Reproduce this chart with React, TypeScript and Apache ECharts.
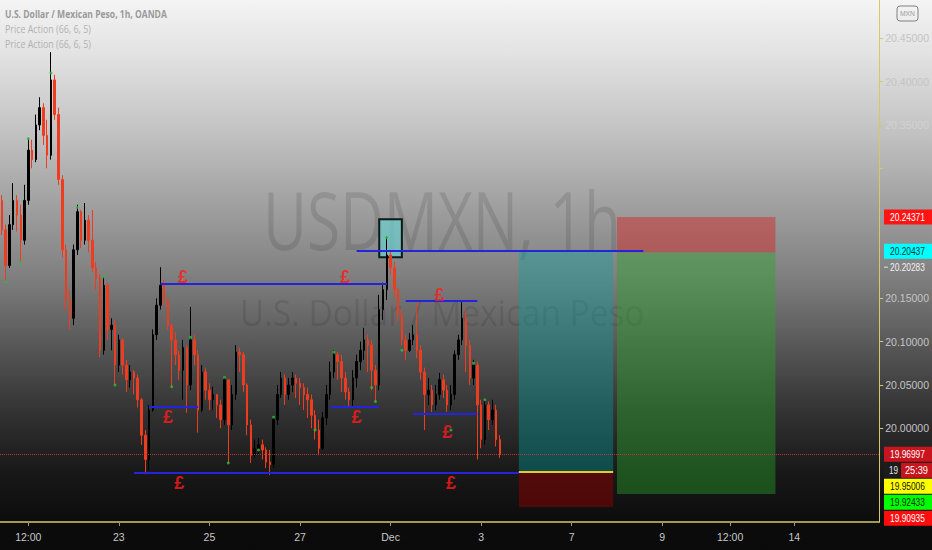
import React, { useEffect, useRef } from 'react';
import * as echarts from 'echarts';

// ---------- data ----------
const firstOpen = 20.263;
const closes = [
  20.229, 20.188, 20.235, 20.263, 20.246, 20.217, 20.263, 20.321, 20.310, 20.350,
  20.370, 20.338, 20.315, 20.402, 20.362, 20.287, 20.206, 20.148, 20.127, 20.206,
  20.250, 20.217, 20.240, 20.217, 20.185, 20.173, 20.090, 20.165, 20.114, 20.119,
  20.073, 20.102, 20.073, 20.056, 20.065, 20.058, 20.033, 19.992, 19.964, 20.021,
  20.108, 20.142, 20.165, 20.148, 20.119, 20.102, 20.085, 20.067, 20.093, 20.050,
  20.102, 20.085, 20.021, 20.065, 20.044, 20.033, 20.039, 20.027, 20.010, 20.056,
  20.004, 20.039, 20.088, 20.085, 20.050, 20.004, 19.969, 19.977, 19.981, 19.975,
  19.961, 19.958, 20.010, 20.039, 20.058, 20.039, 20.050, 20.058, 20.052, 20.047,
  20.039, 20.033, 20.015, 19.998, 19.977, 20.012, 20.039, 20.065, 20.085, 20.077,
  20.058, 20.042, 20.033, 20.058, 20.077, 20.090, 20.102, 20.096, 20.067, 20.050,
  20.137, 20.160, 20.200, 20.185, 20.160, 20.131, 20.102, 20.090, 20.102, 20.108,
  20.090, 20.065, 20.039, 20.044, 20.027, 20.039, 20.056, 20.044, 20.027, 20.039,
  20.085, 20.102, 20.127, 20.096, 20.058, 20.073, 20.027, 19.987, 20.027, 20.010,
  20.021, 19.987, 19.970,
];
const highs = [
  20.269, 20.235, 20.246, 20.283, 20.269, 20.258, 20.281, 20.335, 20.333, 20.362,
  20.382, 20.375, 20.356, 20.434, 20.408, 20.370, 20.292, 20.212, 20.160, 20.212,
  20.258, 20.252, 20.260, 20.246, 20.252, 20.192, 20.178, 20.175, 20.168, 20.127,
  20.125, 20.108, 20.104, 20.079, 20.073, 20.067, 20.062, 20.035, 19.998, 20.027,
  20.114, 20.150, 20.186, 20.171, 20.150, 20.121, 20.111, 20.090, 20.102, 20.096,
  20.140, 20.108, 20.090, 20.073, 20.070, 20.052, 20.048, 20.039, 20.033, 20.060,
  20.056, 20.050, 20.096, 20.093, 20.088, 20.052, 20.010, 19.987, 19.989, 19.987,
  19.978, 19.975, 20.015, 20.050, 20.065, 20.062, 20.058, 20.065, 20.062, 20.058,
  20.052, 20.047, 20.039, 20.021, 20.010, 20.019, 20.050, 20.077, 20.090, 20.088,
  20.085, 20.065, 20.047, 20.067, 20.085, 20.100, 20.116, 20.108, 20.102, 20.073,
  20.154, 20.168, 20.221, 20.204, 20.192, 20.162, 20.137, 20.108, 20.110, 20.119,
  20.148, 20.096, 20.070, 20.058, 20.050, 20.050, 20.064, 20.062, 20.050, 20.050,
  20.090, 20.108, 20.148, 20.137, 20.102, 20.079, 20.077, 20.033, 20.033, 20.031,
  20.033, 20.027, 19.992,
];
const lows = [
  20.223, 20.169, 20.185, 20.229, 20.227, 20.192, 20.212, 20.258, 20.300, 20.307,
  20.344, 20.327, 20.300, 20.310, 20.356, 20.281, 20.197, 20.137, 20.114, 20.119,
  20.200, 20.208, 20.212, 20.203, 20.180, 20.160, 20.082, 20.085, 20.102, 20.090,
  20.050, 20.065, 20.062, 20.042, 20.047, 20.039, 20.024, 19.981, 19.947, 19.952,
  20.019, 20.102, 20.137, 20.142, 20.114, 20.048, 20.073, 20.056, 20.033, 20.018,
  20.044, 20.073, 19.995, 20.019, 20.033, 20.021, 20.021, 20.012, 20.000, 20.004,
  19.960, 19.998, 20.033, 20.065, 20.042, 19.992, 19.960, 19.966, 19.969, 19.964,
  19.954, 19.946, 19.954, 20.004, 20.035, 20.027, 20.033, 20.042, 20.035, 20.027,
  20.021, 20.012, 20.000, 19.987, 19.969, 19.975, 20.004, 20.033, 20.058, 20.056,
  20.042, 20.033, 20.025, 20.026, 20.047, 20.067, 20.079, 20.065, 20.044, 20.031,
  20.044, 20.125, 20.148, 20.177, 20.150, 20.123, 20.096, 20.079, 20.088, 20.096,
  20.081, 20.056, 19.998, 20.027, 20.019, 20.021, 20.033, 20.035, 20.019, 20.021,
  20.033, 20.079, 20.096, 20.065, 20.050, 20.050, 19.964, 19.977, 19.981, 19.998,
  20.004, 19.979, 19.966,
];

const slotCount = 233;
const tickSlots = [7, 31, 55, 79, 103, 127, 151, 175, 193, 210];
const tickLabels = ['12:00', '23', '25', '27', 'Dec', '3', '7', '9', '12:00', '14'];
const priceTicks = [20.0, 20.05, 20.1, 20.15, 20.3, 20.35, 20.4, 20.45];
const priceLabels = [20.0, 20.05, 20.1, 20.15, 20.35, 20.4, 20.45];

const levelPrices = [20.1673, 20.2044, 20.1477, 20.0254, 20.0245, 20.0169, 19.9485];
const levelFrom = [42, 94, 107, 39, 87, 109, 35];
const levelTo = [102, 170, 126, 52, 100, 126, 137];

const poundSlots = [48, 91, 116, 44, 94, 118, 47, 119];
const poundPrices = [20.1745, 20.1745, 20.1537, 20.0130, 20.0130, 19.9957, 19.9368, 19.9368];

const pivotSlots = [1, 5, 7, 13, 20, 27, 30, 45, 50, 59, 60, 68, 72, 83, 88, 98, 99, 102, 106, 119, 125, 128];
const pivotPrices = [20.169, 20.191, 20.334, 20.410, 20.255, 20.175, 20.050, 20.048, 20.105, 20.059, 19.960,
  19.975, 20.013, 19.998, 20.088, 20.047, 20.031, 20.220, 20.090, 19.998, 20.075, 20.033];

const focusSlots = [100, 106];
const focusPrices = [20.2411, 20.1973];
const longSlots = [137, 162];
const longPrices = [20.20437, 19.95006, 19.90935]; // target, entry, stop
const shortSlots = [163, 205];
const shortPrices = [20.24371, 20.20283, 19.92433]; // stop, entry, target
const lastPrice = 19.96997;

const tagValues = [20.24371, 20.20437, 20.20283, 19.96997, 19.95006, 19.92433, 19.90935];
const countdownTexts = ['19', '25:39'];

// ---------- styles ----------
const tagBg = ['#ff1414', '#00ffff', 'none', '#c8141c', '#ffff00', '#00ff00', '#ff0d0d'];
const tagFg = ['#ffffff', '#003838', '#f0f0f0', '#ffffff', '#111111', '#0b2a0b', '#ffffff'];
const UP = '#000000';
const DOWN = '#f03c1e';
const AXIS = '#d4c86a';
const NARROW = "'Liberation Sans Narrow', 'Liberation Sans', sans-serif";

export default function App() {
  const ref = useRef<HTMLDivElement>(null);

  useEffect(() => {
    if (!ref.current) return;
    const chart = echarts.init(ref.current, null, { renderer: 'svg' });

    const categories = Array.from({ length: slotCount }, (_, i) => String(i));
    const ohlc = closes.map((c, i) => [i === 0 ? firstOpen : closes[i - 1], c, lows[i], highs[i]]);
    const labelAt = new Map<number, string>(tickSlots.map((s, i) => [s, tickLabels[i]] as [number, string]));

    const option: any = {
      animation: false,
      backgroundColor: 'transparent',
      grid: { left: 0, right: 48, top: 0, bottom: 28, containLabel: false },
      xAxis: {
        type: 'category',
        data: categories,
        boundaryGap: true,
        axisLine: { show: true, lineStyle: { color: AXIS, width: 1.5 } },
        axisTick: {
          show: true, alignWithLabel: true, length: 4,
          interval: (i: number) => labelAt.has(i),
          lineStyle: { color: '#9a9a80' },
        },
        axisLabel: {
          interval: (i: number) => labelAt.has(i),
          formatter: (v: string) => labelAt.get(Number(v)) ?? '',
          color: '#c8c8c8', fontSize: 10.5, margin: 9, fontFamily: NARROW,
          hideOverlap: false,
        },
        splitLine: { show: false },
      },
      yAxis: {
        type: 'value',
        position: 'right',
        min: 19.8919,
        max: 20.4942,
        splitLine: { show: false },
        axisLine: { show: true, lineStyle: { color: AXIS, width: 1 } },
        axisTick: { show: true, length: 4, customValues: priceTicks, lineStyle: { color: AXIS } },
        axisLabel: {
          customValues: priceLabels,
          formatter: (v: number) => v.toFixed(5),
          color: (v: any) => (Number(v) > 20.32 && Number(v) < 20.37 ? '#d2d2d2' : '#c4c4c4'),
          fontSize: 10.5, margin: 6, fontFamily: NARROW,
        },
      },
      series: [
        {
          type: 'line',
          name: 'zones',
          data: [],
          z: 1,
          silent: true,
          markArea: {
            silent: true,
            data: [
              [{ coord: [longSlots[0], longPrices[0]], itemStyle: { color: 'rgba(0,165,165,0.36)' } }, { coord: [longSlots[1], longPrices[1]] }],
              [{ coord: [longSlots[0], longPrices[1]], itemStyle: { color: 'rgba(140,0,0,0.5)' } }, { coord: [longSlots[1], longPrices[2]] }],
              [{ coord: [shortSlots[0], shortPrices[0]], itemStyle: { color: 'rgba(215,30,30,0.45)' } }, { coord: [shortSlots[1], shortPrices[1]] }],
              [{ coord: [shortSlots[0], shortPrices[1]], itemStyle: { color: 'rgba(40,165,40,0.42)' } }, { coord: [shortSlots[1], shortPrices[2]] }],
              [{ coord: [focusSlots[0], focusPrices[0]], itemStyle: { color: 'rgba(110,205,205,0.72)', borderColor: '#0b1a1a', borderWidth: 2 } }, { coord: [focusSlots[1], focusPrices[1]] }],
            ],
          },
        },
        {
          type: 'candlestick',
          data: ohlc,
          barWidth: 2,
          z: 3,
          itemStyle: { color: UP, color0: DOWN, borderColor: UP, borderColor0: DOWN, borderWidth: 1 },
        },
        {
          type: 'scatter',
          name: 'pivots',
          data: pivotSlots.map((s, i) => [s, pivotPrices[i]]),
          symbolSize: 3,
          z: 4,
          itemStyle: { color: '#27c23a' },
        },
        {
          type: 'line',
          name: 'levels',
          data: [],
          z: 5,
          silent: true,
          markLine: {
            silent: true,
            symbol: ['none', 'none'],
            label: { show: false },
            data: [
              ...levelPrices.map((p, i) => [
                { coord: [levelFrom[i], p], lineStyle: { color: '#2424dc', width: 2, type: 'solid' } },
                { coord: [levelTo[i], p] },
              ]),
              [
                { coord: [longSlots[0], longPrices[1]], lineStyle: { color: '#e0cc2a', width: 2, type: 'solid' } },
                { coord: [longSlots[1], longPrices[1]] },
              ],
              { yAxis: lastPrice, lineStyle: { color: 'rgba(200,60,60,0.85)', width: 1, type: 'dotted' } },
            ],
          },
        },
        {
          type: 'scatter',
          name: 'marks',
          data: poundSlots.map((s, i) => [s, poundPrices[i]]),
          symbolSize: 1,
          z: 6,
          itemStyle: { color: 'rgba(0,0,0,0)' },
          label: {
            show: true, position: 'inside', formatter: '£',
            color: '#ff1a1a', fontSize: 18, fontWeight: 'bold', fontFamily: 'Liberation Sans',
          },
        },
      ],
    };

    chart.setOption(option);

    // ---------- overlay texts and price tags ----------
    const ctx = document.createElement('canvas').getContext('2d');
    const fit = (text: string, font: string, width: number) => {
      if (!ctx) return 1;
      ctx.font = font;
      const w = ctx.measureText(text).width;
      return w > 0 ? width / w : 1;
    };
    const txt = (text: string, x: number, y: number, font: string, fill: string, width: number, align = 'left', z = 10) => ({
      type: 'text', x, y, z, silent: true,
      scaleX: fit(text, font, width),
      style: { text, font, fill, align, textAlign: align, verticalAlign: 'middle', textVerticalAlign: 'middle' },
    });

    const yOf = (v: number) => chart.convertToPixel({ yAxisIndex: 0 }, v) as number;

    type Row = { kind: 'tag' | 'count'; i: number; y: number };
    const rows: Row[] = [];
    tagValues.forEach((v, i) => {
      rows.push({ kind: 'tag', i, y: yOf(v) });
      if (v === lastPrice) rows.push({ kind: 'count', i, y: yOf(v) });
    });
    let prev = -Infinity;
    rows.forEach((r) => { r.y = Math.max(r.y, prev + 16); prev = r.y; });

    const tagFont = "11px 'Liberation Sans'";
    const graphics: any[] = [];
    rows.forEach((r) => {
      if (r.kind === 'tag') {
        const text = tagValues[r.i].toFixed(5);
        if (tagBg[r.i] !== 'none') {
          graphics.push({ type: 'rect', z: 20, silent: true, shape: { x: 884, y: r.y - 7.5, width: 48, height: 15 }, style: { fill: tagBg[r.i] } });
        } else {
          graphics.push({ type: 'line', z: 20, silent: true, shape: { x1: 884, y1: r.y, x2: 888, y2: r.y }, style: { stroke: '#dddddd', lineWidth: 1 } });
        }
        graphics.push(txt(text, 890, r.y, tagFont, tagFg[r.i], 35, 'left', 21));
      } else {
        graphics.push({ type: 'rect', z: 20, silent: true, shape: { x: 884, y: r.y - 7.5, width: 48, height: 15 }, style: { fill: '#1c1c1c' } });
        graphics.push({ type: 'rect', z: 20, silent: true, shape: { x: 901, y: r.y - 7.5, width: 31, height: 15 }, style: { fill: '#c8141c' } });
        graphics.push(txt(countdownTexts[0], 889, r.y, tagFont, '#e8e8e8', 9, 'left', 21));
        graphics.push(txt(countdownTexts[1], 905, r.y, tagFont, '#ffffff', 23, 'left', 21));
      }
    });

    // watermark
    graphics.push(txt('USDMXN, 1h', 442, 219, "81px 'Open Sans'", 'rgba(0,0,0,0.11)', 358, 'center', 0));
    graphics.push(txt('U.S. Dollar / Mexican Peso', 442, 311, "37px 'Open Sans'", 'rgba(0,0,0,0.11)', 405, 'center', 0));
    // legend texts
    graphics.push(txt('U.S. Dollar / Mexican Peso, 1h, OANDA', 5, 14, "bold 11px 'Open Sans'", '#9a9a9a', 162));
    graphics.push(txt('Price Action (66, 6, 5)', 5, 29, "11px 'Open Sans'", '#b2b2b2', 86));
    graphics.push(txt('Price Action (66, 6, 5)', 5, 44, "11px 'Open Sans'", '#b2b2b2', 86));
    // currency badge
    graphics.push({ type: 'rect', z: 20, silent: true, shape: { x: 897, y: 6, width: 21, height: 15, r: 3 }, style: { fill: 'none', stroke: '#808080', lineWidth: 1 } });
    graphics.push(txt('MXN', 907.5, 13.5, "8px 'Liberation Sans'", '#9a9a9a', 15, 'center', 21));

    chart.setOption({ graphic: { elements: graphics } });

    return () => chart.dispose();
  }, []);

  return (
    <div
      ref={ref}
      style={{
        position: 'fixed', left: 0, top: 0, width: 932, height: 550,
        background: 'linear-gradient(to bottom, #f4f4f4 0%, #e2e2e2 10%, #c0c0c0 25%, #a6a6a6 35%, #808080 50%, #5a5a5a 62%, #323232 75%, #181818 86%, #0c0c0c 95%, #0a0a0a 100%)',
      }}
    />
  );
}
